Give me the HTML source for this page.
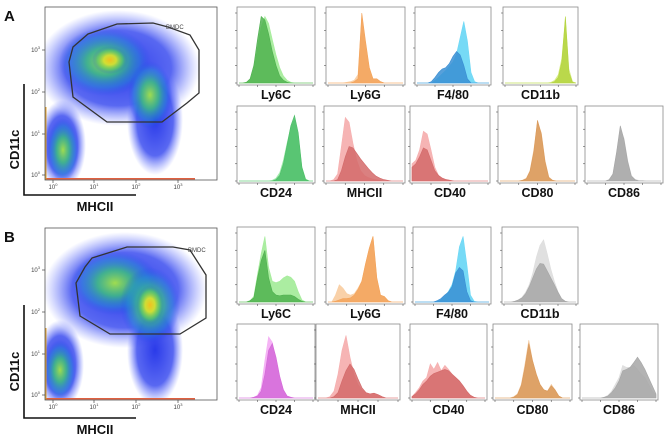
<!DOCTYPE html>
<html><head><meta charset="utf-8">
<style>
html,body{margin:0;padding:0;background:#fff;}
body{width:669px;height:437px;overflow:hidden;font-family:"Liberation Sans",sans-serif;}
svg{display:block;}
</style></head>
<body>
<svg id="fig" width="669" height="437" viewBox="0 0 669 437" xmlns="http://www.w3.org/2000/svg">
<defs>
  <radialGradient id="gBlue" cx="50%" cy="50%" r="50%">
    <stop offset="0%" stop-color="#1f30e8" stop-opacity="0.95"/>
    <stop offset="65%" stop-color="#2f42ee" stop-opacity="0.8"/>
    <stop offset="100%" stop-color="#6070ff" stop-opacity="0"/>
  </radialGradient>
  <radialGradient id="gFaint" cx="50%" cy="50%" r="50%">
    <stop offset="0%" stop-color="#4050f0" stop-opacity="0.55"/>
    <stop offset="70%" stop-color="#6070f8" stop-opacity="0.3"/>
    <stop offset="100%" stop-color="#8090ff" stop-opacity="0"/>
  </radialGradient>
  <radialGradient id="gGreen" cx="50%" cy="50%" r="50%">
    <stop offset="0%" stop-color="#a0dc50" stop-opacity="1"/>
    <stop offset="40%" stop-color="#40c080" stop-opacity="0.85"/>
    <stop offset="75%" stop-color="#2090d0" stop-opacity="0.45"/>
    <stop offset="100%" stop-color="#2040f0" stop-opacity="0"/>
  </radialGradient>
  <radialGradient id="gYellow" cx="50%" cy="50%" r="50%">
    <stop offset="0%" stop-color="#f0c020" stop-opacity="1"/>
    <stop offset="35%" stop-color="#d8e030" stop-opacity="0.9"/>
    <stop offset="70%" stop-color="#60c860" stop-opacity="0.5"/>
    <stop offset="100%" stop-color="#2040f0" stop-opacity="0"/>
  </radialGradient>
  <filter id="speck" x="0" y="0" width="100%" height="100%">
    <feTurbulence type="fractalNoise" baseFrequency="0.95" numOctaves="1" seed="5" result="n"/>
    <feColorMatrix in="n" type="matrix" values="0 0 0 0 1  0 0 0 0 1  0 0 0 0 1  0 0 0 -4 2.6" result="m"/>
    <feComposite in="m" in2="SourceGraphic" operator="in"/>
  </filter>
</defs>
<g id="root"></g>
</svg>
<script>
// ---------- histogram data (21 bins across each axis, relative heights 0..1) ----------
// Panel A, row 1
const A_Ly6C_light = [0,0,0.01,0.05,0.2,0.5,0.8,0.95,0.85,0.62,0.4,0.22,0.1,0.04,0.01,0,0,0,0,0,0];
const A_Ly6C_dark  = [0,0,0.01,0.06,0.25,0.62,0.95,0.9,0.7,0.45,0.25,0.1,0.04,0.01,0,0,0,0,0,0,0];
const A_Ly6G_light = [0,0,0,0,0,0.01,0.02,0.04,0.12,0.95,0.55,0.2,0.06,0.05,0.02,0,0,0,0,0,0];
const A_Ly6G_dark  = [0,0,0,0,0,0,0,0.02,0.06,1.0,0.6,0.22,0.06,0.06,0.02,0,0,0,0,0,0];
const A_F480_light = [0,0,0,0,0,0.04,0.08,0.13,0.18,0.24,0.3,0.42,0.65,0.88,0.6,0.15,0.02,0,0,0,0];
const A_F480_dark  = [0,0,0,0,0.02,0.08,0.15,0.2,0.22,0.28,0.38,0.45,0.4,0.25,0.06,0,0,0,0,0,0];
const A_CD11b_light= [0,0,0,0,0,0,0,0,0,0,0,0,0,0.01,0.04,0.12,0.35,0.9,0.2,0.02,0];
const A_CD11b_dark = [0,0,0,0,0,0,0,0,0,0,0,0,0,0,0.02,0.08,0.3,0.95,0.15,0.01,0];
// Panel A, row 2
const A_CD24_light = [0,0,0,0,0,0,0,0,0,0.01,0.04,0.12,0.3,0.55,0.78,0.9,0.65,0.2,0.03,0,0];
const A_CD24_dark  = [0,0,0,0,0,0,0,0,0,0,0.02,0.08,0.25,0.52,0.8,0.95,0.7,0.2,0.02,0,0];
const A_MHCII_light= [0,0,0.02,0.1,0.5,0.92,0.85,0.55,0.3,0.15,0.08,0.05,0.03,0.02,0.01,0,0,0,0,0,0];
const A_MHCII_dark = [0,0,0,0.02,0.15,0.35,0.5,0.48,0.4,0.32,0.25,0.18,0.12,0.07,0.04,0.02,0.01,0,0,0,0];
const A_CD40_light = [0.25,0.3,0.45,0.72,0.68,0.45,0.2,0.08,0.04,0.02,0.01,0,0,0,0,0,0,0,0,0,0];
const A_CD40_dark  = [0.2,0.25,0.35,0.48,0.45,0.3,0.15,0.08,0.04,0.02,0.01,0,0,0,0,0,0,0,0,0,0];
const A_CD80_light = [0,0,0,0,0,0,0.01,0.04,0.15,0.45,0.85,0.7,0.3,0.06,0.01,0,0,0,0,0,0];
const A_CD80_dark  = [0,0,0,0,0,0,0.01,0.03,0.14,0.42,0.88,0.68,0.28,0.05,0.01,0,0,0,0,0,0];
const A_CD86_light = [0,0,0,0,0,0,0.02,0.1,0.4,0.75,0.62,0.3,0.08,0.02,0.01,0.01,0,0,0,0,0];
const A_CD86_dark  = [0,0,0,0,0,0,0.02,0.1,0.42,0.8,0.6,0.28,0.07,0.02,0,0,0,0,0,0,0];
// Panel B, row 1
const B_Ly6C_light = [0,0,0,0.02,0.08,0.4,0.7,0.95,0.5,0.3,0.28,0.3,0.35,0.38,0.36,0.3,0.15,0.03,0,0,0];
const B_Ly6C_dark  = [0,0,0,0.02,0.06,0.35,0.6,0.75,0.35,0.15,0.1,0.09,0.1,0.1,0.1,0.08,0.04,0.01,0,0,0];
const B_Ly6G_light = [0,0,0.1,0.25,0.2,0.12,0.1,0.12,0.2,0.3,0.55,0.78,0.95,0.35,0.1,0.08,0.02,0,0,0,0];
const B_Ly6G_dark  = [0,0,0.01,0.03,0.05,0.05,0.06,0.1,0.18,0.3,0.55,0.78,0.95,0.35,0.1,0.08,0.02,0,0,0,0];
const B_F480_light = [0,0,0,0,0,0,0.01,0.03,0.08,0.15,0.25,0.45,0.8,0.95,0.55,0.1,0.01,0,0,0,0];
const B_F480_dark  = [0,0,0,0,0,0,0.02,0.05,0.1,0.14,0.22,0.42,0.5,0.45,0.15,0.02,0,0,0,0,0];
const B_CD11b_light= [0,0,0,0.01,0.03,0.07,0.14,0.25,0.42,0.65,0.82,0.9,0.7,0.48,0.3,0.15,0.05,0.01,0,0,0];
const B_CD11b_dark = [0,0,0,0.01,0.03,0.06,0.12,0.22,0.35,0.48,0.56,0.55,0.45,0.35,0.25,0.14,0.05,0.01,0,0,0];
// Panel B, row 2
const B_CD24_light = [0,0,0,0,0.01,0.04,0.15,0.55,0.9,0.82,0.55,0.3,0.12,0.03,0.01,0,0,0,0,0,0];
const B_CD24_dark  = [0,0,0,0,0.01,0.03,0.1,0.35,0.7,0.8,0.6,0.32,0.12,0.03,0.01,0,0,0,0,0,0];
const B_MHCII_light= [0,0,0,0.02,0.1,0.35,0.7,0.92,0.6,0.35,0.2,0.12,0.08,0.06,0.07,0.05,0.02,0,0,0,0];
const B_MHCII_dark = [0,0,0,0,0.02,0.08,0.25,0.4,0.5,0.42,0.28,0.15,0.08,0.06,0.07,0.05,0.02,0,0,0,0];
const B_CD40_light = [0.02,0.08,0.15,0.25,0.3,0.5,0.42,0.52,0.4,0.48,0.42,0.35,0.3,0.25,0.18,0.1,0.04,0.01,0,0,0];
const B_CD40_dark  = [0.02,0.06,0.12,0.2,0.25,0.32,0.36,0.38,0.4,0.42,0.4,0.35,0.3,0.25,0.18,0.1,0.04,0.01,0,0,0];
const B_CD80_light = [0,0,0,0,0,0.02,0.06,0.2,0.5,0.85,0.55,0.35,0.2,0.12,0.1,0.2,0.12,0.03,0,0,0];
const B_CD80_dark  = [0,0,0,0,0,0.01,0.05,0.18,0.45,0.8,0.55,0.35,0.2,0.12,0.1,0.18,0.12,0.03,0,0,0];
const B_CD86_light = [0,0,0,0,0,0,0.01,0.04,0.1,0.2,0.3,0.48,0.45,0.45,0.48,0.42,0.35,0.3,0.2,0.1,0.04];
const B_CD86_dark  = [0,0,0,0,0,0,0.01,0.03,0.08,0.15,0.25,0.4,0.42,0.45,0.52,0.6,0.52,0.42,0.3,0.18,0.06];

const histLabels = ["Ly6C","Ly6G","F4/80","CD11b","CD24","MHCII","CD40","CD80","CD86"];

const NS = "http://www.w3.org/2000/svg";
const root = document.getElementById("root");
function mk(tag, attrs, parent){
  const e = document.createElementNS(NS, tag);
  for (const k in attrs) e.setAttribute(k, attrs[k]);
  (parent||root).appendChild(e);
  return e;
}

const C = {
  green:["#a6ec9c","#4fb14f"], orange:["#f9cfa4","#f3a35a"], blue:["#6fd8f5","#3a8fd4"],
  lime:["#d8ec88","#b4d440"], green2:["#9ee8a8","#4cbe68"], red:["#f5b0b0","#d36a6a"],
  tan:["#f2c9a0","#d99a5c"], gray:["#dedede","#a6a6a6"], mag:["#f4b0f4","#d468d8"]
};

function histogram(name, x0, x1, y0, y1, light, dark, col, label){
  const g = mk("g", {});
  
  
  const box = mk("rect", {x:x0, y:y0, width:x1-x0, height:y1-y0, fill:"#fff", stroke:"#8a8a8a", "stroke-width":"0.8"}, g);
  
  
  const ix0 = x0+2, ix1 = x1-2, base = y1-2, top = y0+6;
  const xs = i => ix0 + (ix1-ix0)*i/(light.length-1);
  const ys = v => base - (base-top)*v;
  function area(arr, fill, op, nm){
    let d = "M"+xs(0)+","+base;
    arr.forEach((v,i)=>{ d += " L"+xs(i).toFixed(1)+","+ys(v).toFixed(1); });
    d += " L"+xs(arr.length-1)+","+base+" Z";
    const p = mk("path", {d, fill, "fill-opacity":op, stroke:fill, "stroke-width":"0.6"}, g);
    
    
  }
  area(light, col[0], 0.95, 'histogram-area-control');
  area(dark, col[1], 0.85, 'histogram-area-sample');
  for (let i=0;i<=4;i++){
    const tx = ix0 + (ix1-ix0)*i/4;
    mk("line",{x1:tx,y1:y1,x2:tx,y2:y1+2,stroke:"#555","stroke-width":"0.6"},g);
  }
  for (let i=0;i<=4;i++){
    const ty = base - (base-top)*i/4;
    mk("line",{x1:x0-2,y1:ty,x2:x0,y2:ty,stroke:"#555","stroke-width":"0.6"},g);
  }
  const t = mk("text",{x:(x0+x1)/2, y:y1+14, "text-anchor":"middle", "font-size":"12.5", "font-weight":"bold", fill:"#111"}, g);
  t.textContent = label;
  
  
}

histogram("a-ly6c",237,315,7,85,A_Ly6C_light,A_Ly6C_dark,C.green,histLabels[0]);
histogram("a-ly6g",326,405,7,85,A_Ly6G_light,A_Ly6G_dark,C.orange,histLabels[1]);
histogram("a-f480",415,491,7,85,A_F480_light,A_F480_dark,C.blue,histLabels[2]);
histogram("a-cd11b",503,578,7,85,A_CD11b_light,A_CD11b_dark,C.lime,histLabels[3]);
histogram("a-cd24",237,315,106,183,A_CD24_light,A_CD24_dark,C.green2,histLabels[4]);
histogram("a-mhcii",324,405,106,183,A_MHCII_light,A_MHCII_dark,C.red,histLabels[5]);
histogram("a-cd40",410,490,106,183,A_CD40_light,A_CD40_dark,C.red,histLabels[6]);
histogram("a-cd80",498,577,106,183,A_CD80_light,A_CD80_dark,C.tan,histLabels[7]);
histogram("a-cd86",585,663,106,183,A_CD86_light,A_CD86_dark,C.gray,histLabels[8]);
histogram("b-ly6c",237,315,227,304,B_Ly6C_light,B_Ly6C_dark,C.green,histLabels[0]);
histogram("b-ly6g",326,405,227,304,B_Ly6G_light,B_Ly6G_dark,C.orange,histLabels[1]);
histogram("b-f480",413,491,227,304,B_F480_light,B_F480_dark,C.blue,histLabels[2]);
histogram("b-cd11b",502,578,227,304,B_CD11b_light,B_CD11b_dark,C.gray,histLabels[3]);
histogram("b-cd24",237,315,324,400,B_CD24_light,B_CD24_dark,C.mag,histLabels[4]);
histogram("b-mhcii",316,400,324,400,B_MHCII_light,B_MHCII_dark,C.red,histLabels[5]);
histogram("b-cd40",410,487,324,400,B_CD40_light,B_CD40_dark,C.red,histLabels[6]);
histogram("b-cd80",493,572,324,400,B_CD80_light,B_CD80_dark,C.tan,histLabels[7]);
histogram("b-cd86",580,658,324,400,B_CD86_light,B_CD86_dark,C.gray,histLabels[8]);

// ---------- dot plots ----------
const gateA = [[88,34],[117,24],[153,23],[168,27],[190,35],[199,50],[199,93],[187,103],[162,122],[107,122],[73,97],[69,62],[73,47]];
const gateB = [[92,258],[127,247],[173,247],[190,250],[206,275],[206,318],[180,334],[110,334],[80,316],[76,283],[85,267]];
// density regions: [cx, cy, rx, ry, type]  f=faint, b=blue, g=green, y=yellow
const blobsA = [[130,90,110,95,"f"],[118,68,82,58,"b"],[62,145,24,45,"b"],[155,120,28,55,"b"],[105,62,46,34,"g"],[150,95,22,34,"g"],[63,150,16,32,"g"],[110,60,18,14,"y"]];
const blobsB = [[135,310,110,95,"f"],[125,290,82,58,"b"],[60,365,24,45,"b"],[155,350,28,55,"b"],[115,283,44,32,"g"],[150,305,30,38,"g"],[60,370,16,30,"g"],[150,305,14,20,"y"]];

function dotplot(tag, y0, y1, gate, blobs, letter, labelY, bracketTop){
  const g = mk("g",{});
  
  
  const L = mk("text",{x:4,y:y0+14,"font-size":"15","font-weight":"bold",fill:"#111"},g);
  L.textContent = letter;
  
  
  const cl = "clip"+tag;
  const cp = mk("clipPath",{id:cl},g);
  mk("rect",{x:45,y:y0,width:172,height:y1-y0},cp);
  const dg = mk("g",{"clip-path":"url(#"+cl+")"},g);
  const sp = mk("g",{filter:"url(#speck)"},dg);
  blobs.forEach(b=>{
    const id = {f:"gFaint",b:"gBlue",g:"gGreen",y:"gYellow"}[b[4]];
    const e = mk("ellipse",{cx:b[0],cy:b[1],rx:b[2],ry:b[3],fill:"url(#"+id+")"}, b[4]==="f"?sp:dg);
    
    
  });
  mk("rect",{x:45,y:y1-2,width:150,height:1.5,fill:"#e06040"},dg);
  mk("rect",{x:45,y:y0+100,width:1.5,height:y1-y0-100,fill:"#e0a030"},dg);
  const frame = mk("rect",{x:45,y:y0,width:172,height:y1-y0,fill:"none",stroke:"#555","stroke-width":"0.8"},g);
  
  
  const poly = mk("polygon",{points:gate.map(p=>p.join(",")).join(" "),fill:"none",stroke:"#333","stroke-width":"1.3"},g);
  
  
  const gl = mk("text",{x:gate[3][0]-2,y:gate[3][1]+2,"font-size":"6",fill:"#444"},g);
  gl.textContent = "BMDC";
  
  
  const decX = [53,94,136,178], decY = [y1-5,y1-46,y1-88,y1-130];
  [0,1,2,3].forEach(i=>{
    const tx = mk("text",{x:decX[i],y:y1+9,"font-size":"6",fill:"#444","text-anchor":"middle"},g);
    tx.textContent = "10";
    const s = mk("tspan",{dy:"-3","font-size":"4"},tx); s.textContent = String(i);
    
    
    const ty = mk("text",{x:40,y:decY[i]+2,"font-size":"6",fill:"#444","text-anchor":"end"},g);
    ty.textContent = "10";
    const s2 = mk("tspan",{dy:"-3","font-size":"4"},ty); s2.textContent = String(i);
    
    
    mk("line",{x1:decX[i],y1:y1,x2:decX[i],y2:y1+3,stroke:"#444","stroke-width":"0.7"},g);
    mk("line",{x1:42,y1:decY[i],x2:45,y2:decY[i],stroke:"#444","stroke-width":"0.7"},g);
  });
  mk("path",{d:"M24,"+bracketTop+" L24,"+(labelY-16)+" L136,"+(labelY-16),fill:"none",stroke:"#111","stroke-width":"1.6"},g);
  const xl = mk("text",{x:95,y:labelY,"font-size":"13","font-weight":"bold","text-anchor":"middle",fill:"#111"},g);
  xl.textContent = "MHCII";
  
  
  const ymid = (bracketTop + labelY-16)/2 + 10;
  const yl = mk("text",{x:19,y:ymid,"font-size":"13","font-weight":"bold","text-anchor":"middle",fill:"#111",transform:"rotate(-90 19 "+ymid+")"},g);
  yl.textContent = "CD11c";
  
  
}
dotplot("a",7,180,gateA,blobsA,"A",211,84);
dotplot("b",228,400,gateB,blobsB,"B",434,305);
</script>
</body></html>
